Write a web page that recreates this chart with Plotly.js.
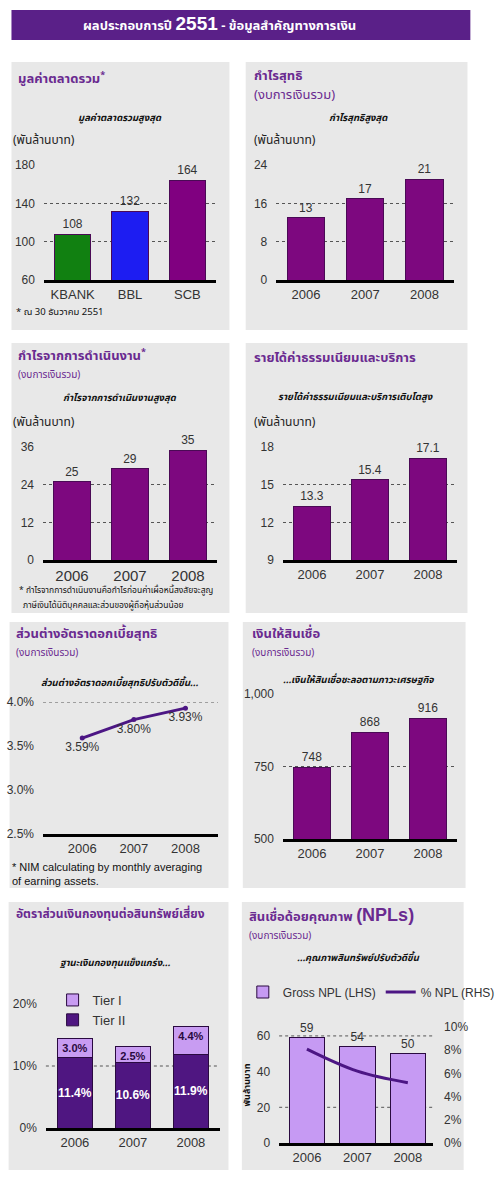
<!DOCTYPE html>
<html>
<head>
<meta charset="utf-8">
<script src="https://cdn.plot.ly/plotly-3.0.1.min.js"></script>
<style>html,body{margin:0;padding:0;background:#fff}</style>
</head>
<body>
<div id="chart" style="width:500px;height:1185px"></div>
<script>
// ---------- data ----------
const banks = ['KBANK', 'BBL', 'SCB'];
const marketCap = [108, 132, 164];
const years = ['2006', '2007', '2008'];
const netProfit = [13, 17, 21];
const operatingProfit = [25, 29, 35];
const feeIncome = [13.3, 15.4, 17.1];
const nimPct = [3.59, 3.80, 3.93];
const loans = [748, 868, 916];
const tier1 = [3.0, 2.5, 4.4];
const tier2 = [11.4, 10.6, 11.9];
const grossNpl = [59, 54, 50];
const nplRatioPct = [8.1, 6.2, 5.2];

// ---------- helpers ----------
const W = 500, H = 1185;
const px = x => x / W;
const py = y => 1 - y / H;
const PURPLE = '#6a2a90';
const BAR = '#7d087f';
const BAR_LINE = '#4a0a55';
const THAI = 'Noto Sans Thai, Noto Sans, DejaVu Sans, sans-serif';
const ARIAL = 'Liberation Sans, Arial, sans-serif';
const TSIZE = 13;

function xax(x0, x1, y, opts) {
  return Object.assign({
    domain: [px(x0), px(x1)], anchor: y, type: 'category', range: [-0.5, 2.5],
    showline: true, linecolor: '#000', linewidth: 3, showgrid: false, zeroline: false,
    ticks: '', tickfont: {family: ARIAL, size: 13, color: '#333'}, fixedrange: true
  }, opts || {});
}
function yax(y0, y1, x, range, dtick, opts) {
  return Object.assign({
    domain: [py(y1), py(y0)], anchor: x, range: range, dtick: dtick, tick0: range[0],
    showline: false, showgrid: true, griddash: 'dot', gridcolor: '#555', gridwidth: 1,
    zeroline: false, ticks: '', ticklabelstandoff: 8,
    tickfont: {family: ARIAL, size: 12, color: '#333'}, fixedrange: true
  }, opts || {});
}
function ann(x, y, text, size, color, opts) {
  return Object.assign({
    xref: 'paper', yref: 'paper', x: px(x), y: py(y), text: text, showarrow: false,
    xanchor: 'left', yanchor: 'middle', align: 'left',
    font: {family: THAI, size: size, color: color}
  }, opts || {});
}
function box(x0, y0, x1, y1, color) {
  return {type: 'rect', xref: 'paper', yref: 'paper', x0: px(x0), x1: px(x1), y0: py(y1), y1: py(y0),
    fillcolor: color, line: {width: 0}, layer: 'below'};
}
function barTrace(x, y, xa, ya, color, fmt) {
  return {
    type: 'bar', x: x, y: y, xaxis: xa, yaxis: ya, showlegend: false,
    marker: {color: color, line: {color: BAR_LINE, width: 1}},
    text: y.map(fmt || (v => String(v))), textposition: 'outside', cliponaxis: false,
    textfont: {family: ARIAL, size: 12, color: '#333'}, hoverinfo: 'skip', width: 0.63
  };
}

// ---------- traces ----------
const data = [
  barTrace(banks, marketCap, 'x', 'y', ['#118011', '#1d1df2', '#800080']),
  barTrace(years, netProfit, 'x2', 'y2', BAR),
  barTrace(years, operatingProfit, 'x3', 'y3', BAR),
  barTrace(years, feeIncome, 'x4', 'y4', BAR, v => v.toFixed(1)),
  {
    type: 'scatter', mode: 'lines+markers+text', x: years, y: nimPct, xaxis: 'x5', yaxis: 'y5',
    showlegend: false, line: {color: '#4c1684', width: 3}, marker: {color: '#4c1684', size: 5},
    text: nimPct.map(v => v.toFixed(2) + '%'), textposition: 'bottom center', cliponaxis: false,
    textfont: {family: ARIAL, size: 12, color: '#333'}, hoverinfo: 'skip'
  },
  barTrace(years, loans, 'x6', 'y6', BAR),
  {
    type: 'bar', name: 'Tier II', x: years, y: tier2, xaxis: 'x7', yaxis: 'y7', legend: 'legend', legendrank: 2,
    marker: {color: '#4f1681', line: {color: '#2a0a40', width: 1}}, width: 0.6,
    text: tier2.map(v => v.toFixed(1) + '%'), textposition: 'inside', insidetextanchor: 'middle', textangle: 0,
    constraintext: 'none', textfont: {family: ARIAL, size: 12, color: '#fff', weight: 'bold'}, hoverinfo: 'skip'
  },
  {
    type: 'bar', name: 'Tier I', x: years, y: tier1, xaxis: 'x7', yaxis: 'y7', legend: 'legend', legendrank: 1,
    marker: {color: '#c89cf2', line: {color: '#2a0a40', width: 1}}, width: 0.6,
    text: tier1.map(v => v.toFixed(1) + '%'), textposition: 'inside', insidetextanchor: 'end', textangle: 0,
    constraintext: 'none', textfont: {family: ARIAL, size: 11, color: '#2a0a40', weight: 'bold'}, hoverinfo: 'skip'
  },
  {
    type: 'bar', name: 'Gross NPL (LHS)', x: years, y: grossNpl, xaxis: 'x8', yaxis: 'y8', legend: 'legend2', legendrank: 1,
    marker: {color: '#c69af3', line: {color: '#2a0a40', width: 1}}, width: 0.7,
    text: grossNpl.map(String), textposition: 'outside', cliponaxis: false,
    textfont: {family: ARIAL, size: 12, color: '#333'}, hoverinfo: 'skip'
  },
  {
    type: 'scatter', mode: 'lines', name: '% NPL (RHS)', x: years, y: nplRatioPct, xaxis: 'x8', yaxis: 'y9',
    legend: 'legend2', legendrank: 2, line: {color: '#4c1684', width: 3, shape: 'spline'}, hoverinfo: 'skip'
  }
];

// ---------- layout ----------
const shapes = [
  box(12, 10, 492, 40, '#5a2088'),
  box(12, 62, 240, 330, '#e8e8e8'),
  box(257, 62, 489, 330, '#e8e8e8'),
  box(12, 343, 240, 613, '#e8e8e8'),
  box(257, 343, 489, 613, '#e8e8e8'),
  box(10, 622, 239, 888, '#e8e8e8'),
  box(254, 622, 487, 888, '#e8e8e8'),
  box(9, 902, 239, 1170, '#e8e8e8'),
  box(253, 902, 485, 1170, '#e8e8e8'),
  {type: 'line', xref: 'x5 domain', x0: 0, x1: 1, yref: 'y5', y0: 4.0, y1: 4.0, line: {color: '#555', width: 1, dash: 'dot'}, layer: 'below'},
  {type: 'line', xref: 'x7 domain', x0: 0, x1: 1, yref: 'y7', y0: 10, y1: 10, line: {color: '#555', width: 1, dash: 'dot'}, layer: 'below'},
  {type: 'line', xref: 'x8 domain', x0: 0, x1: 1, yref: 'y8', y0: 20, y1: 20, line: {color: '#555', width: 1, dash: 'dot'}, layer: 'below'},
  {type: 'line', xref: 'x8 domain', x0: 0, x1: 1, yref: 'y8', y0: 60, y1: 60, line: {color: '#555', width: 1, dash: 'dot'}, layer: 'below'}
];

const sub = (x, y, t) => ann(x, y, '<b><i>' + t + '</i></b>', 9.5, '#111', {xanchor: 'center'});
const unit = (x, y) => ann(x, y, '(พันล้านบาท)', 12, '#222');

const annotations = [
  ann(85, 25, '<b>ผลประกอบการปี <span style="font-family:Liberation Sans,Arial;font-size:19px">2551</span> - ข้อมูลสำคัญทางการเงิน</b>', 13, '#fff'),
  // panel 1
  ann(17, 78, '<b>มูลค่าตลาดรวม<sup>*</sup></b>', TSIZE, PURPLE),
  sub(125, 118, 'มูลค่าตลาดรวมสูงสุด'), unit(12, 140),
  ann(15, 312, '* ณ 30 ธันวาคม 2551', 9.5, '#111'),
  // panel 2
  ann(264, 76, '<b>กำไรสุทธิ</b>', TSIZE, PURPLE),
  ann(264, 95, '(งบการเงินรวม)', 13, PURPLE),
  sub(375, 118, 'กำไรสุทธิสูงสุด'), unit(264, 140),
  // panel 3
  ann(17, 356, '<b>กำไรจากการดำเนินงาน<sup>*</sup></b>', TSIZE, PURPLE),
  ann(17, 375, '(งบการเงินรวม)', 10, PURPLE),
  sub(125, 398, 'กำไรจากการดำเนินงานสูงสุด'), unit(12, 422),
  ann(18, 590, '* กำไรจากการดำเนินงานคือกำไรก่อนค่าเผื่อหนี้สงสัยจะสูญ', 8.5, '#111'),
  ann(22, 605, 'ภาษีเงินได้นิติบุคคลและส่วนของผู้ถือหุ้นส่วนน้อย', 8.5, '#111'),
  // panel 4
  ann(264, 358, '<b>รายได้ค่าธรรมเนียมและบริการ</b>', TSIZE, PURPLE),
  sub(372, 397, 'รายได้ค่าธรรมเนียมและบริการเติบโตสูง'), unit(264, 422),
  // panel 5
  ann(15, 634, '<b>ส่วนต่างอัตราดอกเบี้ยสุทธิ</b>', TSIZE, PURPLE),
  ann(15, 653, '(งบการเงินรวม)', 10, PURPLE),
  sub(125, 683, 'ส่วนต่างอัตราดอกเบี้ยสุทธิปรับตัวดีขึ้น...'),
  ann(10, 874, '* NIM calculating by monthly averaging<br>of earning assets.', 11, '#111', {font: {family: ARIAL, size: 11, color: '#111'}}),
  // panel 6
  ann(262, 634, '<b>เงินให้สินเชื่อ</b>', TSIZE, PURPLE),
  ann(262, 653, '(งบการเงินรวม)', 10, PURPLE),
  sub(375, 680, '...เงินให้สินเชื่อชะลอตามภาวะเศรษฐกิจ'),
  // panel 7
  ann(15, 914, '<b>อัตราส่วนเงินกองทุนต่อสินทรัพย์เสี่ยง</b>', 12, PURPLE),
  sub(120, 963, 'ฐานะเงินกองทุนแข็งแกร่ง...'),
  // panel 8
  ann(258, 916, '<b>สินเชื่อด้อยคุณภาพ <span style="font-family:Liberation Sans,Arial;font-size:18px">(NPLs)</span></b>', TSIZE, PURPLE),
  ann(258, 936, '(งบการเงินรวม)', 10, PURPLE),
  sub(375, 958, '...คุณภาพสินทรัพย์ปรับตัวดีขึ้น')
];

const layout = {
  width: W, height: H, margin: {l: 0, r: 0, t: 0, b: 0},
  paper_bgcolor: '#fff', plot_bgcolor: 'rgba(0,0,0,0)',
  barmode: 'stack', showlegend: true,
  font: {family: ARIAL, size: 12, color: '#333'},
  shapes: shapes, annotations: annotations,
  legend: {x: px(55), y: py(985), xanchor: 'left', yanchor: 'top', bgcolor: 'rgba(0,0,0,0)',
    font: {family: ARIAL, size: 13, color: '#333'}, traceorder: 'normal', tracegroupgap: 0, itemwidth: 30},
  legend2: {x: px(254), y: py(992), xanchor: 'left', yanchor: 'middle', orientation: 'h', bgcolor: 'rgba(0,0,0,0)',
    font: {family: ARIAL, size: 12, color: '#333'}, traceorder: 'normal', itemwidth: 30},

  xaxis: xax(46, 226, 'y'),
  yaxis: yax(165, 280, 'x', [60, 180], 40),
  xaxis2: xax(289, 475, 'y2'),
  yaxis2: yax(165, 280, 'x2', [0, 24], 8),
  xaxis3: xax(45, 227, 'y3', {tickfont: {family: ARIAL, size: 15, color: '#333'}}),
  yaxis3: yax(447, 560, 'x3', [0, 36], 12),
  xaxis4: xax(296, 478, 'y4'),
  yaxis4: yax(447, 560, 'x4', [9, 18], 3),
  xaxis5: xax(45, 228, 'y5', {range: [-0.76, 2.63]}),
  yaxis5: yax(702, 834, 'x5', [2.5, 4.0], 0.5, {ticksuffix: '%', tickformat: '.1f', showgrid: false}),
  xaxis6: xax(296, 478, 'y6'),
  yaxis6: yax(694, 839, 'x6', [500, 1000], 250, {tickformat: ','}),
  xaxis7: xax(48, 230, 'y7'),
  yaxis7: yax(1004, 1128, 'x7', [0, 20], 10, {ticksuffix: '%', showgrid: false}),
  xaxis8: xax(292, 453, 'y8', {range: [-0.55, 2.5]}),
  yaxis8: yax(1027, 1143, 'x8', [0, 65], 20, {showgrid: false,
    title: {text: '<b>พันล้านบาท</b>', font: {family: THAI, size: 9, color: '#111'}, standoff: 4}}),
  yaxis9: {overlaying: 'y8', side: 'right', anchor: 'x8', range: [0, 10], dtick: 2, ticksuffix: '%',
    showgrid: false, zeroline: false, showline: false, ticks: '', ticklabelstandoff: 10,
    tickfont: {family: ARIAL, size: 12, color: '#333'}, fixedrange: true}
};

Plotly.newPlot('chart', data, layout, {staticPlot: true, displayModeBar: false});
</script>
</body>
</html>
